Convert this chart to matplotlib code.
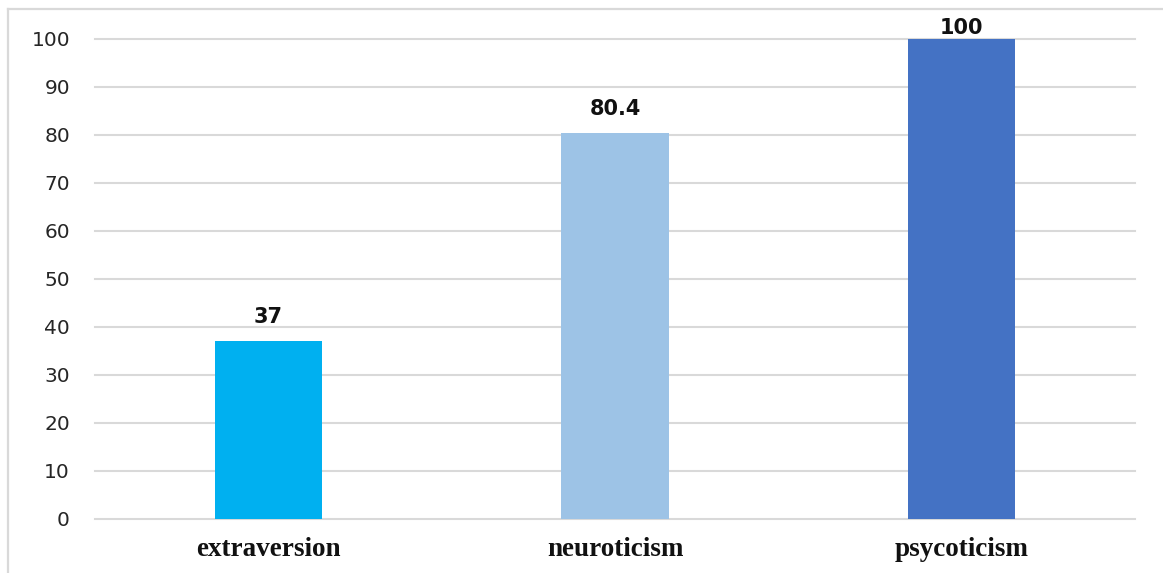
import matplotlib
matplotlib.use("Agg")
import matplotlib.pyplot as plt
from matplotlib.lines import Line2D

categories = ["extraversion", "neuroticism", "psycoticism"]
values = [37, 80.4, 100]
value_labels = ["37", "80.4", "100"]
bar_colors = ["#00B0F0", "#9DC3E6", "#4472C4"]
y_ticks = [0, 10, 20, 30, 40, 50, 60, 70, 80, 90, 100]

W, H = 1163, 573
fig = plt.figure(figsize=(W / 100, H / 100), dpi=100)
fig.patch.set_facecolor("white")

ax = fig.add_axes([95 / W, (H - 519) / H, (1135 - 95) / W, (519 - 39) / H])
x = list(range(len(categories)))
ax.bar(x, values, width=0.31, color=bar_colors, zorder=3)

ax.set_xlim(-0.5, len(categories) - 0.5)
ax.set_ylim(0, 100)
ax.set_yticks(y_ticks)
ax.set_yticklabels([str(t) for t in y_ticks], fontsize=14.5, color="#262626",
                   family="DejaVu Sans")
ax.set_xticks(x)
ax.set_xticklabels(categories, fontsize=19.5, fontweight="bold",
                   family="Liberation Serif", color="#111111")
ax.tick_params(axis="y", length=0, pad=18)
ax.tick_params(axis="x", length=0, pad=13)
ax.yaxis.grid(True, color="#d9d9d9", linewidth=1.5, zorder=0)
for gl in ax.get_ygridlines():
    gl.set_clip_on(False)
ax.set_axisbelow(True)
for s in ax.spines.values():
    s.set_visible(False)

# value labels above bars, kept inside the top of the plot area
for xi, v, lab in zip(x, values, value_labels):
    ax.text(xi, min(v + 5.0, 102.3), lab, ha="center", va="center",
            fontsize=15, fontweight="bold", family="DejaVu Sans",
            color="#111111", clip_on=False, zorder=4)

# light outer frame along top and left edges
fig.add_artist(Line2D([7.5 / W, 1], [1 - 8.5 / H, 1 - 8.5 / H],
                      transform=fig.transFigure, color="#d9d9d9", linewidth=1.6))
fig.add_artist(Line2D([7.5 / W, 7.5 / W], [0, 1 - 8.5 / H],
                      transform=fig.transFigure, color="#d9d9d9", linewidth=1.6))

fig.savefig("out.png", dpi=100, facecolor="white")
